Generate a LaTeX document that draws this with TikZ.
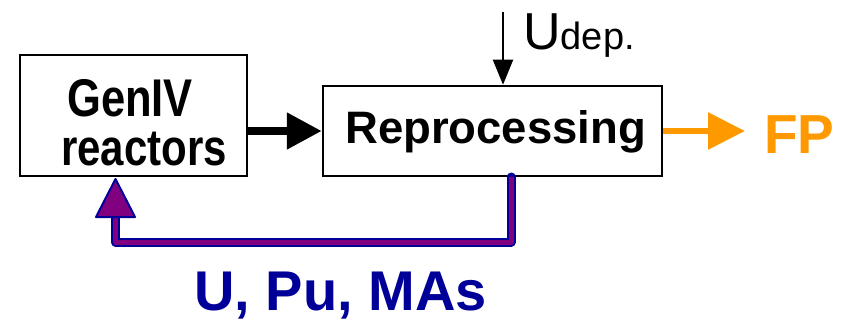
\documentclass[tikz,border=0pt]{standalone}
\usepackage{fontspec}
\setmainfont{Liberation Sans}
\usetikzlibrary{arrows.meta,calc}
\definecolor{fpor}{RGB}{255,153,0}
\definecolor{navyb}{RGB}{0,0,153}
\definecolor{purp}{RGB}{128,0,128}
\tikzset{
  box/.style={draw=black,line width=2.5pt,inner sep=0pt},
  lbl/.style={inner sep=0pt,anchor=base west},
}
\begin{document}
\begin{tikzpicture}[x=1pt,y=-1pt]
\useasboundingbox (0,0) rectangle (841,321);
% boxes
\node[box,minimum width=227pt,minimum height=121pt] (gen) at (133.5,115.5) {};
\node[box,minimum width=339pt,minimum height=90pt] (rep) at (492.5,131) {};
% texts
\node[lbl] (t1) at (67,116) {\scalebox{1}[1.22]{\fontsize{43.5}{43.5}\selectfont\bfseries GenIV}};
\node[lbl] (t2) at (61,165) {\scalebox{1}[1.22]{\fontsize{42}{42}\selectfont\bfseries reactors}};
\node[lbl] (t3) at (345,143) {\fontsize{45.5}{45.5}\selectfont\bfseries Reprocessing};
\node[lbl,text=navyb] (t4) at (194,310) {\fontsize{56}{56}\selectfont\bfseries U, Pu, MAs};
\node[lbl,text=fpor] (t5) at (764,153) {\fontsize{55}{55}\selectfont\bfseries FP};
\node[lbl] (t6) at (523,50) {{\fontsize{52}{52}\selectfont U}{\fontsize{38}{38}\selectfont dep.}};
% black arrow
\draw[line width=8pt,-{Triangle[length=35pt,width=35pt]}] (gen.east |- rep.west) -- (rep.west);
% U dep arrow
\coordinate (utop) at (503,12);
\draw[line width=2pt,-{Triangle[length=25pt,width=20pt]}] (utop) -- (utop |- rep.north);
% FP arrow
\coordinate (fptip) at (745,131);
\draw[fpor,line width=6pt,-{Triangle[length=37pt,width=36pt]}] (rep.east) -- (fptip);
% recycle
\coordinate (f0) at (511,177);
\coordinate (f1) at (511,242);
\coordinate (f2) at (115.5,242);
\coordinate (f3) at (115.5,217);
\draw[navyb,line width=9pt,line join=round,line cap=round] (f0) -- (f1) -- (f2) -- (f3);
\draw[purp,line width=5pt,line join=round] (f0) -- (f1) -- (f2) -- (f3);
\filldraw[fill=purp,draw=navyb,line width=2pt,line join=round] (96,217) -- (135,217) -- (115.5,179) -- cycle;
\end{tikzpicture}
\end{document}
